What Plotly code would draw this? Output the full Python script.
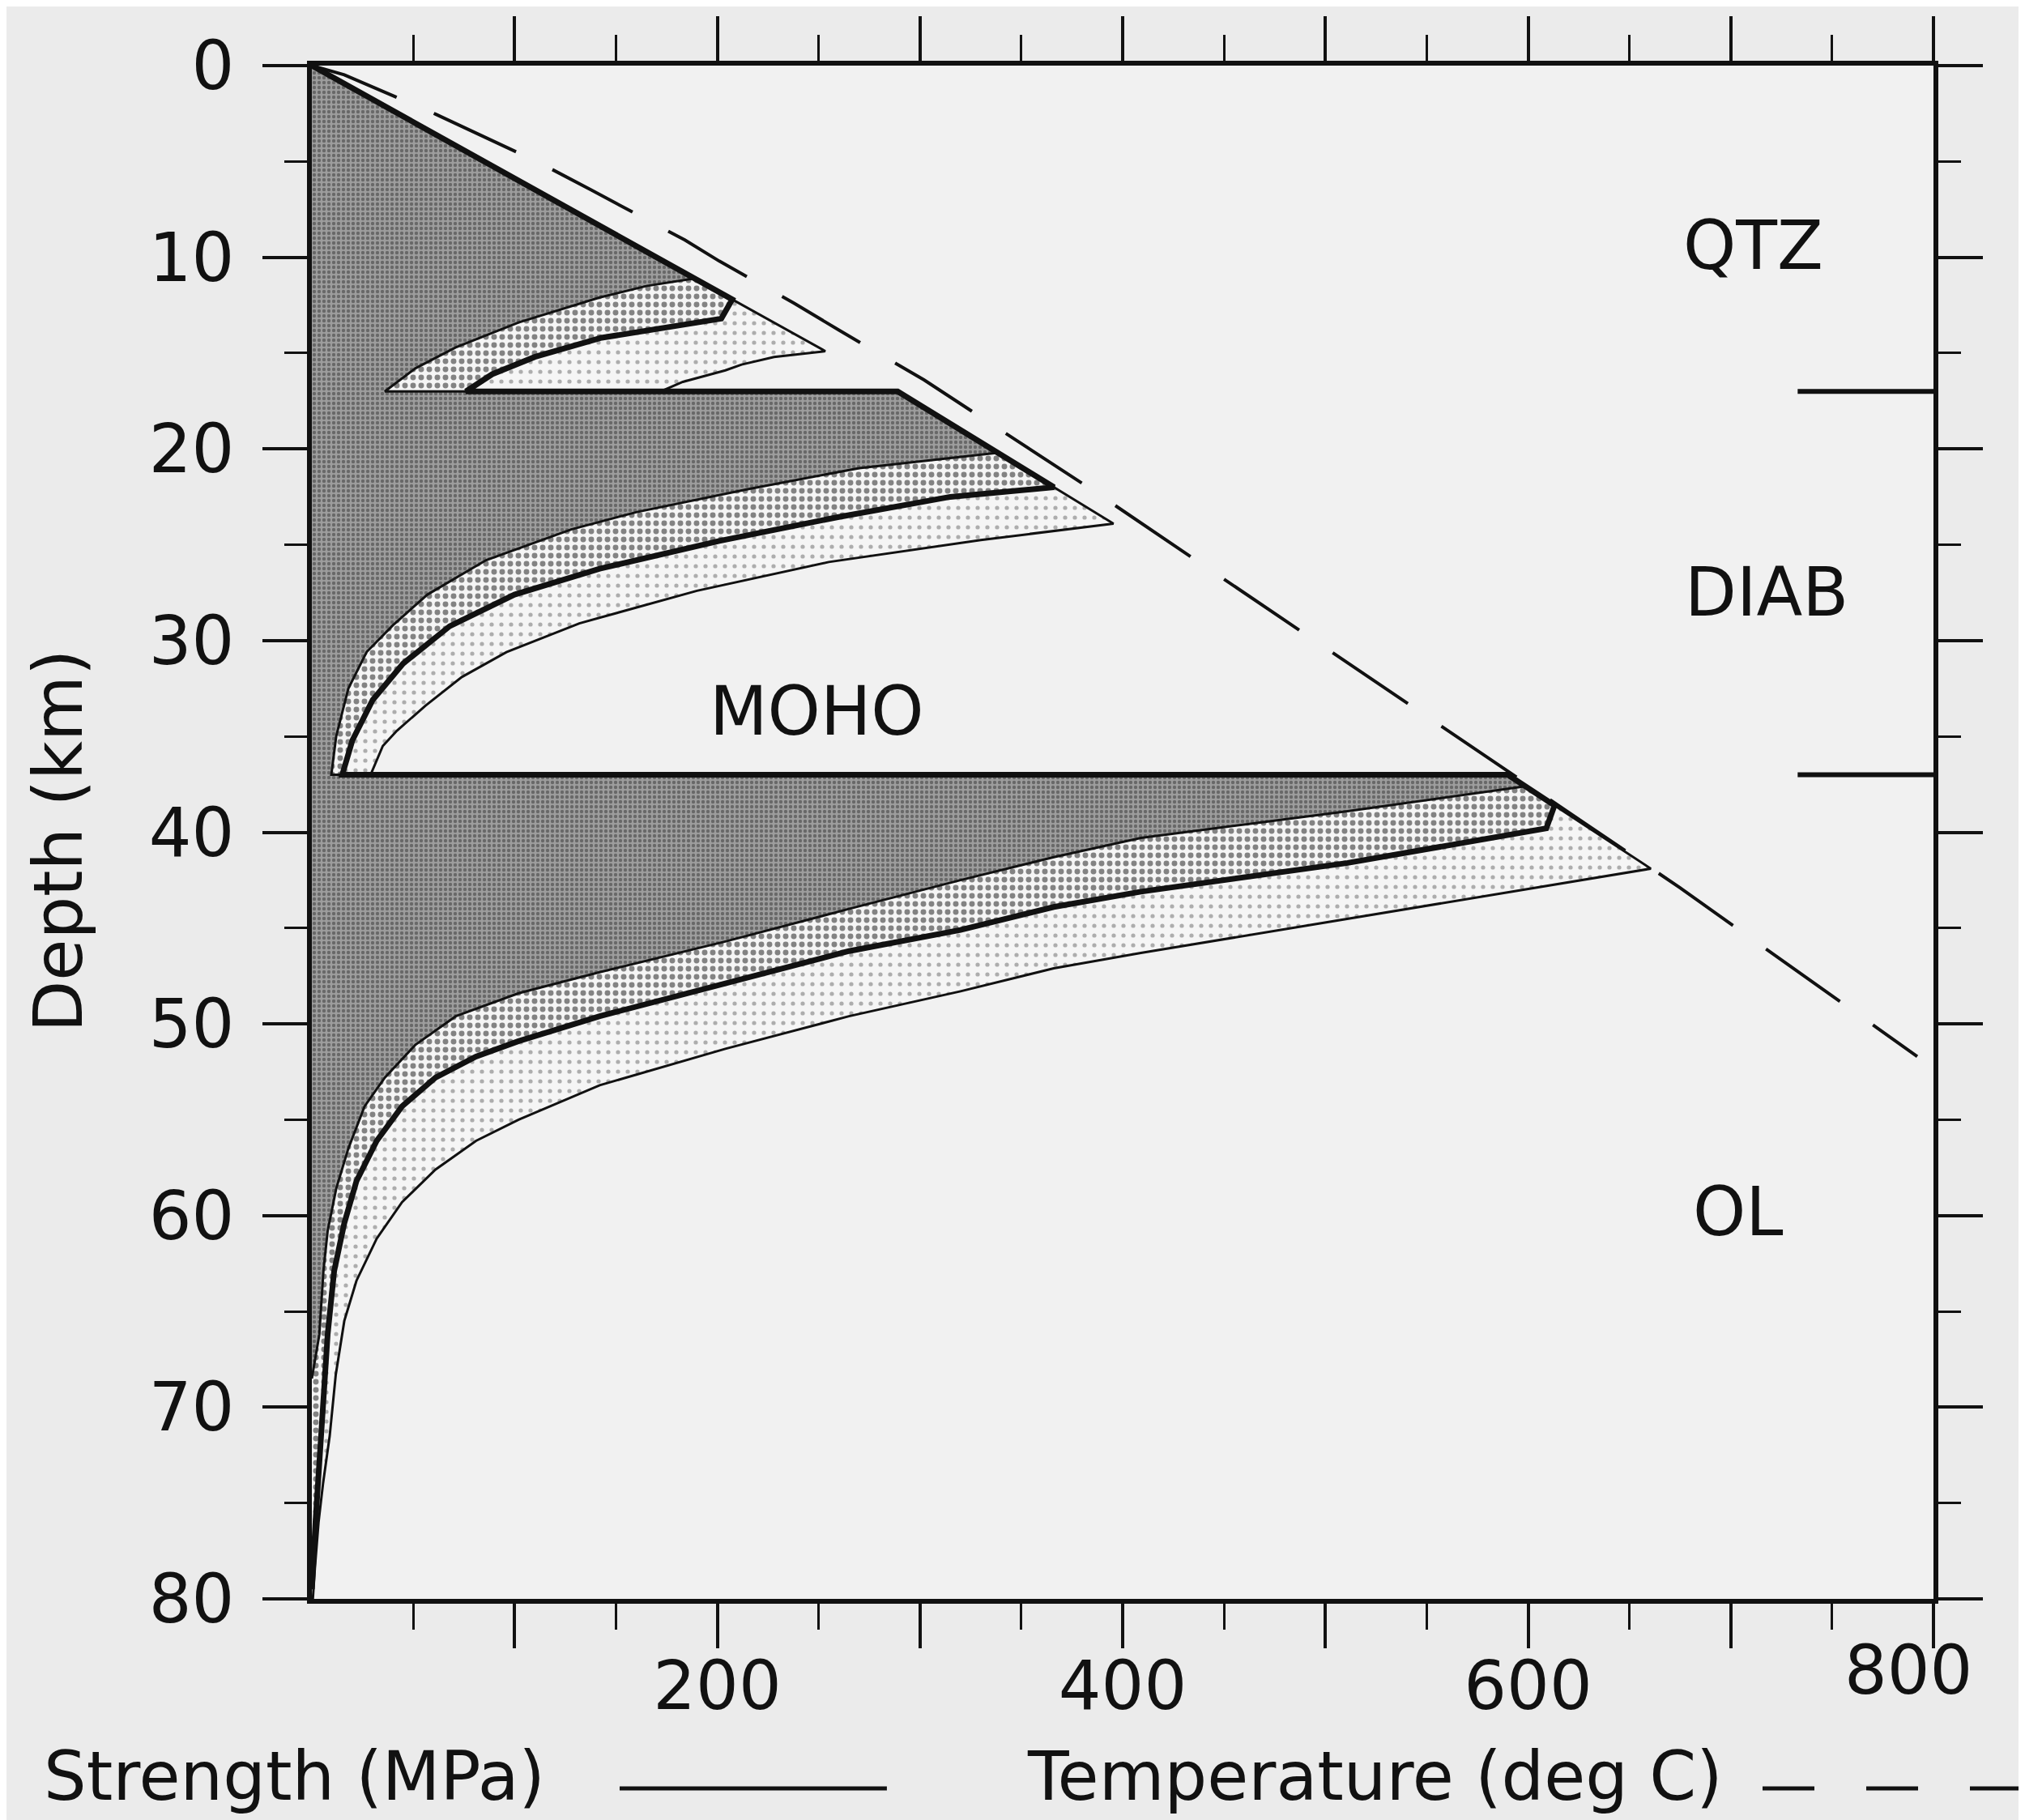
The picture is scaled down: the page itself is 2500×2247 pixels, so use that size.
import numpy as np
import plotly.graph_objects as go

# ---------------- data ----------------
LAYER_NAMES = ["QTZ", "DIAB", "OL"]
LAYER_TOP_KM = [0, 17, 37]

# brittle (frictional) strength line
BRITTLE_DEPTH_KM = [0, 17, 24, 37, 42]
BRITTLE_MPA = [0, 289, 397, 590, 662]

# ductile strength curves (depth km, strength MPa) for three strain rates
QTZ_SLOW_KM = [11.1, 11.5, 12.1, 13.4, 14.7, 15.8, 17.0]
QTZ_SLOW_MPA = [186, 165, 142, 102, 71, 51, 36]
QTZ_MID_KM = [12.2, 13.2, 13.4, 13.6, 14.2, 15.2, 16.1, 17.0]
QTZ_MID_MPA = [205, 202, 190, 175, 143, 110, 89, 76]
QTZ_FAST_KM = [14.9, 15.2, 15.6, 15.9, 16.5, 17.0]
QTZ_FAST_MPA = [250, 228, 212, 204, 183, 172]

DIAB_SLOW_KM = [20.2, 21.0, 22.1, 23.3, 24.2, 25.8, 27.6, 29.2, 30.6, 32.5, 35.0, 37.0]
DIAB_SLOW_MPA = [335, 270, 215, 160, 128, 86, 57, 40, 27, 18, 12, 9.6]
DIAB_MID_KM = [22.0, 22.5, 23.55, 24.8, 26.25, 27.6, 29.25, 31.2, 33.1, 35.2, 37.0]
DIAB_MID_MPA = [366, 315, 260, 201, 142, 100, 68, 45, 30, 20, 15]
DIAB_FAST_KM = [23.9, 24.75, 25.9, 27.4, 29.1, 30.6, 31.9, 33.4, 34.7, 35.5, 37.0]
DIAB_FAST_MPA = [397, 330, 255, 190, 132, 96, 74, 56, 42, 35, 29]

OL_SLOW_KM = [37.6, 38.9, 40.3, 41.3, 42.5, 44.0, 45.7, 47.3, 48.4, 49.6, 51.1, 52.8,
              54.3, 56.5, 58.6, 60.8, 62.9, 66.2, 68.5]
OL_SLOW_MPA = [598, 511, 409, 366, 320, 265, 204, 142, 102, 71, 51, 36,
               26, 18, 12, 7.8, 5.7, 3.7, 0]
OL_MID_KM = [38.6, 39.8, 41.6, 43.1, 43.9, 45.1, 46.2, 47.9, 49.6, 50.9, 51.7, 52.8,
             54.3, 56.1, 58.2, 60.4, 62.9, 66.2, 69.4, 73.0, 76.0, 79.5]
OL_MID_MPA = [613, 609, 511, 409, 366, 320, 265, 204, 142, 102, 81, 61,
              44.5, 32, 22, 16, 11, 7.8, 5.7, 3.7, 1.8, 0]
OL_FAST_KM = [41.9, 46.3, 47.1, 48.3, 49.6, 51.3, 53.2, 55.0, 56.1, 57.6, 59.3, 61.2,
              63.4, 65.5, 68.3, 71.5, 74.0, 76.0, 78.4, 80.0]
OL_FAST_MPA = [661, 409, 366, 320, 265, 204, 142, 102, 81, 61, 44.5, 32,
               22, 16, 11.8, 8.8, 5.5, 3.3, 1.5, 0.5]

# temperature profile
TEMP_DEPTH_KM = [0, 0.48, 2.53, 5.0, 6.5, 9.1, 10.2, 12.4, 13.8, 16.4, 22.0, 30.8, 36.1, 42.9, 51.7]
TEMP_C = [0, 16, 61, 111, 138, 184, 201, 238, 260, 302, 383, 506, 580, 675, 792]

X_TICKS = [100, 200, 300, 400, 500, 600, 700, 800]
X_TICK_TEXT = ["", "200", "", "400", "", "600", "", ""]
X_MINOR_TICKS = [50, 150, 250, 350, 450, 550, 650, 750]
Y_TICKS = [0, 10, 20, 30, 40, 50, 60, 70, 80]

FONT = "DejaVu Sans"
FS = 83
INK = "#111111"


def envelope(curves):
    xs, ys = [], []
    for top, (cz, cs) in zip(LAYER_TOP_KM, curves):
        zb = [top] + [z for z in BRITTLE_DEPTH_KM if top < z < cz[0]] + [cz[0]]
        xs += list(np.interp(zb, BRITTLE_DEPTH_KM, BRITTLE_MPA))
        ys += zb
        xs += list(cs[1:])
        ys += list(cz[1:])
    return xs, ys


slow = envelope([(QTZ_SLOW_KM, QTZ_SLOW_MPA), (DIAB_SLOW_KM, DIAB_SLOW_MPA), (OL_SLOW_KM, OL_SLOW_MPA)])
mid = envelope([(QTZ_MID_KM, QTZ_MID_MPA), (DIAB_MID_KM, DIAB_MID_MPA), (OL_MID_KM, OL_MID_MPA)])
fast = envelope([(QTZ_FAST_KM, QTZ_FAST_MPA), (DIAB_FAST_KM, DIAB_FAST_MPA), (OL_FAST_KM, OL_FAST_MPA)])

fig = go.Figure()

fills = [
    (fast, dict(shape=".", fgcolor="#666666", bgcolor="#f5f5f5", size=12, solidity=0.15)),
    (mid, dict(shape=".", fgcolor="#111111", bgcolor="#f5f5f5", size=10, solidity=0.38)),
    (slow, dict(shape=".", fgcolor="#333333", bgcolor="#9d9d9d", size=6, solidity=0.42)),
]
for (xs, ys), pat in fills:
    fig.add_trace(go.Scatter(
        x=list(xs) + [0], y=list(ys) + [ys[-1]], mode="lines", fill="toself",
        fillpattern=pat, line=dict(width=0, color="rgba(0,0,0,0)"),
        hoverinfo="skip", showlegend=False))

for (xs, ys), w in [(fast, 3), (slow, 3), (mid, 7)]:
    fig.add_trace(go.Scatter(x=xs, y=ys, mode="lines",
                             line=dict(color=INK, width=w),
                             hoverinfo="skip", showlegend=False))

# temperature (dashed)
fig.add_trace(go.Scatter(x=TEMP_C, y=TEMP_DEPTH_KM, mode="lines",
                         line=dict(color=INK, width=4, dash="112px,50px"),
                         hoverinfo="skip", showlegend=False))

# layer boundary marks on the right
for zb in LAYER_TOP_KM[1:]:
    fig.add_trace(go.Scatter(x=[733, 800], y=[zb, zb], mode="lines",
                             line=dict(color=INK, width=6),
                             hoverinfo="skip", showlegend=False))

tickfont = dict(family=FONT, size=FS, color=INK)
fig.update_xaxes(range=[0, 800], showgrid=False, zeroline=False,
                 showline=True, linewidth=6, linecolor=INK, mirror="allticks",
                 ticks="outside", tickvals=X_TICKS, ticktext=X_TICK_TEXT,
                 ticklen=55, tickwidth=4, tickcolor=INK, tickfont=tickfont,
                 ticklabelstandoff=-25,
                 minor=dict(tickvals=X_MINOR_TICKS,
                            ticks="outside", ticklen=32, tickwidth=3, tickcolor=INK))
fig.update_yaxes(range=[80, 0], showgrid=False, zeroline=False,
                 showline=True, linewidth=6, linecolor=INK, mirror="allticks",
                 ticks="outside", tickvals=Y_TICKS,
                 ticklen=55, tickwidth=4, tickcolor=INK, tickfont=tickfont,
                 ticklabelstandoff=18,
                 minor=dict(dtick=5, ticks="outside", ticklen=28, tickwidth=3, tickcolor=INK))

txt = dict(family=FONT, size=FS, color=INK)
ann = [
    dict(x=711, y=9.4, xref="x", yref="y", text="QTZ"),
    dict(x=717.6, y=27.5, xref="x", yref="y", text="DIAB"),
    dict(x=703.6, y=59.8, xref="x", yref="y", text="OL"),
    dict(x=249, y=33.7, xref="x", yref="y", text="MOHO"),
    dict(x=0.9845, y=-0.047, xref="paper", yref="paper", text="800"),
    dict(x=-0.156, y=0.4945, xref="paper", yref="paper", text="Depth (km)", textangle=-90),
    dict(x=-0.1665, y=-0.116, xref="paper", yref="paper", text="Strength (MPa)", xanchor="left"),
    dict(x=0.4400, y=-0.116, xref="paper", yref="paper", text="Temperature (deg C)", xanchor="left"),
]
for a in ann:
    a.setdefault("xanchor", "center")
    fig.add_annotation(showarrow=False, font=txt, yanchor="middle", **a)

fig.add_shape(type="line", xref="paper", yref="paper", x0=0.1898, x1=0.3546,
              y0=-0.1236, y1=-0.1236, line=dict(color=INK, width=5))
fig.add_shape(type="line", xref="paper", yref="paper", x0=0.8946, x1=1.0604,
              y0=-0.1236, y1=-0.1236, line=dict(color=INK, width=5, dash="64px,64px"))

fig.update_layout(width=2500, height=2247,
                  margin=dict(l=377, r=121, t=69, b=281),
                  paper_bgcolor="#ebebeb", plot_bgcolor="#f1f1f1",
                  showlegend=False)

fig.write_html("out.html")
